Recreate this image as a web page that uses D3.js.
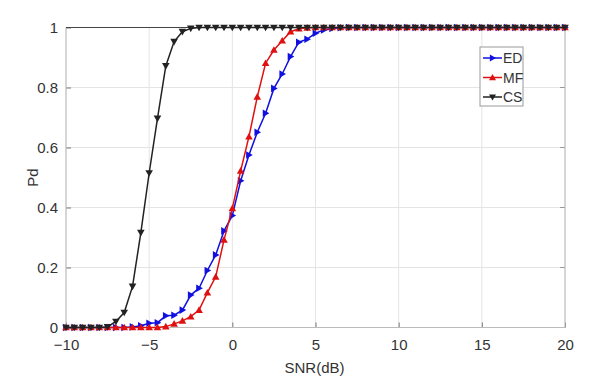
<!DOCTYPE html>
<html>
<head>
<meta charset="utf-8">
<script src="https://cdn.jsdelivr.net/npm/d3@7"></script>
<style>
  body { margin: 0; background: #fff; }
  text { font-family: "Liberation Sans", Arial, sans-serif; fill: #333; }
</style>
</head>
<body>
<div id="chart"></div>
<script>
// SNR values (dB), step 0.5
const snr = [-10, -9.5, -9, -8.5, -8, -7.5, -7, -6.5, -6, -5.5, -5, -4.5, -4, -3.5, -3, -2.5, -2, -1.5, -1, -0.5,
  0, 0.5, 1, 1.5, 2, 2.5, 3, 3.5, 4, 4.5, 5, 5.5, 6, 6.5, 7, 7.5, 8, 8.5, 9, 9.5,
  10, 10.5, 11, 11.5, 12, 12.5, 13, 13.5, 14, 14.5, 15, 15.5, 16, 16.5, 17, 17.5, 18, 18.5, 19, 19.5, 20];

const pd_ed = [0, 0, 0, 0, 0, 0, 0, 0, 0.002, 0.006, 0.014, 0.016, 0.039, 0.041, 0.058, 0.108, 0.131, 0.19, 0.242, 0.322,
  0.373, 0.489, 0.575, 0.651, 0.714, 0.797, 0.845, 0.903, 0.951, 0.961, 0.981, 0.992, 0.997, 0.999, 1, 1, 1, 1, 1, 1,
  1, 1, 1, 1, 1, 1, 1, 1, 1, 1, 1, 1, 1, 1, 1, 1, 1, 1, 1, 1, 1];

const pd_mf = [0, 0, 0, 0, 0, 0, 0, 0, 0, 0, 0, 0, 0.003, 0.012, 0.022, 0.036, 0.058, 0.116, 0.169, 0.292,
  0.397, 0.522, 0.636, 0.769, 0.881, 0.925, 0.956, 0.986, 0.996, 0.999, 1, 1, 1, 1, 1, 1, 1, 1, 1, 1,
  1, 1, 1, 1, 1, 1, 1, 1, 1, 1, 1, 1, 1, 1, 1, 1, 1, 1, 1, 1, 1];

const pd_cs = [0, 0, 0, 0, 0, 0.002, 0.02, 0.05, 0.137, 0.316, 0.515, 0.697, 0.872, 0.953, 0.986, 0.997, 1, 1, 1, 1,
  1, 1, 1, 1, 1, 1, 1, 1, 1, 1, 1, 1, 1, 1, 1, 1, 1, 1, 1, 1,
  1, 1, 1, 1, 1, 1, 1, 1, 1, 1, 1, 1, 1, 1, 1, 1, 1, 1, 1, 1, 1];

const x_ticks = [-10, -5, 0, 5, 10, 15, 20];
const y_ticks = [0, 0.2, 0.4, 0.6, 0.8, 1];

const series = [
  { name: "ED", values: pd_ed, color: "#1010e0", marker: "right" },
  { name: "MF", values: pd_mf, color: "#e01010", marker: "up" },
  { name: "CS", values: pd_cs, color: "#222222", marker: "down" }
];

// dimensions
const margin = { top: 27.5, right: 51, bottom: 59.5, left: 66 },
  width = 616 - margin.left - margin.right,
  height = 387 - margin.top - margin.bottom;

const svg = d3.select("#chart")
  .append("svg")
  .attr("width", 616)
  .attr("height", 387)
  .append("g")
  .attr("transform", `translate(${margin.left},${margin.top})`);

const x = d3.scaleLinear().domain([-10, 20]).range([0, width]);
const y = d3.scaleLinear().domain([0, 1]).range([height, 0]);

// grid
svg.append("g")
  .selectAll("line")
  .data(x_ticks)
  .join("line")
  .attr("x1", d => x(d)).attr("x2", d => x(d))
  .attr("y1", 0).attr("y2", height)
  .attr("stroke", "#e4e4e4");

svg.append("g")
  .selectAll("line")
  .data(y_ticks)
  .join("line")
  .attr("x1", 0).attr("x2", width)
  .attr("y1", d => y(d)).attr("y2", d => y(d))
  .attr("stroke", "#e4e4e4");

// axes (inward ticks)
const xAxis = svg.append("g")
  .attr("transform", `translate(0,${height})`)
  .call(d3.axisBottom(x).tickValues(x_ticks).tickSize(-5).tickPadding(12).tickFormat(d3.format("d")));
const yAxis = svg.append("g")
  .call(d3.axisLeft(y).tickValues(y_ticks).tickSize(-5).tickPadding(8).tickFormat(d => d === 0 || d === 1 ? d : d3.format(".1f")(d)));

[xAxis, yAxis].forEach(a => {
  a.select(".domain").remove();
  a.selectAll(".tick line").attr("stroke", "#777");
  a.selectAll(".tick text")
    .style("font-size", "15px")
    .attr("fill", "#333");
});

// right side ticks
svg.append("g")
  .selectAll("line")
  .data(y_ticks)
  .join("line")
  .attr("x1", width - 5).attr("x2", width)
  .attr("y1", d => y(d)).attr("y2", d => y(d))
  .attr("stroke", "#999");

// box
svg.append("line").attr("x1", 0).attr("x2", width).attr("y1", height).attr("y2", height).attr("stroke", "#bbb");
svg.append("line").attr("x1", 0).attr("x2", 0).attr("y1", 0).attr("y2", height).attr("stroke", "#bbb");
svg.append("line").attr("x1", width).attr("x2", width).attr("y1", 0).attr("y2", height).attr("stroke", "#bbb");
svg.append("line").attr("x1", 0).attr("x2", width).attr("y1", 0).attr("y2", 0).attr("stroke", "#444");

// markers
function markerPath(type, s) {
  if (type === "up") return `M0,${-s}L${s},${s * 0.75}L${-s},${s * 0.75}Z`;
  if (type === "down") return `M0,${s}L${s},${-s * 0.75}L${-s},${-s * 0.75}Z`;
  return `M${s},0L${-s * 0.75},${s}L${-s * 0.75},${-s}Z`;
}

const line = d3.line()
  .x(d => x(d[0]))
  .y(d => y(d[1]));

series.forEach(s => {
  const pts = snr.map((v, i) => [v, s.values[i]]);
  svg.append("path")
    .datum(pts)
    .attr("fill", "none")
    .attr("stroke", s.color)
    .attr("stroke-width", 1.5)
    .attr("d", line);
  svg.append("g")
    .selectAll("path")
    .data(pts)
    .join("path")
    .attr("transform", d => `translate(${x(d[0])},${y(d[1])})`)
    .attr("d", markerPath(s.marker, 3.8))
    .attr("fill", s.color);
});

// axis labels
svg.append("text")
  .attr("x", x(5) - 1)
  .attr("y", height + 45)
  .attr("text-anchor", "middle")
  .style("font-size", "15px")
  .text("SNR(dB)");

svg.append("text")
  .attr("transform", `translate(${-28},${height / 2}) rotate(-90)`)
  .attr("text-anchor", "middle")
  .style("font-size", "15px")
  .text("Pd");

// legend
const lg = svg.append("g")
  .attr("transform", `translate(${480 - margin.left},${47 - margin.top})`);
lg.append("rect")
  .attr("width", 43).attr("height", 59)
  .attr("fill", "#fff")
  .attr("stroke", "#999");
series.forEach((s, i) => {
  const yy = 11 + i * 19.5;
  lg.append("line")
    .attr("x1", 3).attr("x2", 22)
    .attr("y1", yy).attr("y2", yy)
    .attr("stroke", s.color).attr("stroke-width", 1.5);
  lg.append("path")
    .attr("transform", `translate(12.5,${yy})`)
    .attr("d", markerPath(s.marker, 3.5))
    .attr("fill", s.color);
  lg.append("text")
    .attr("x", 23).attr("y", yy + 5)
    .style("font-size", "14px")
    .text(s.name);
});
</script>
</body>
</html>
